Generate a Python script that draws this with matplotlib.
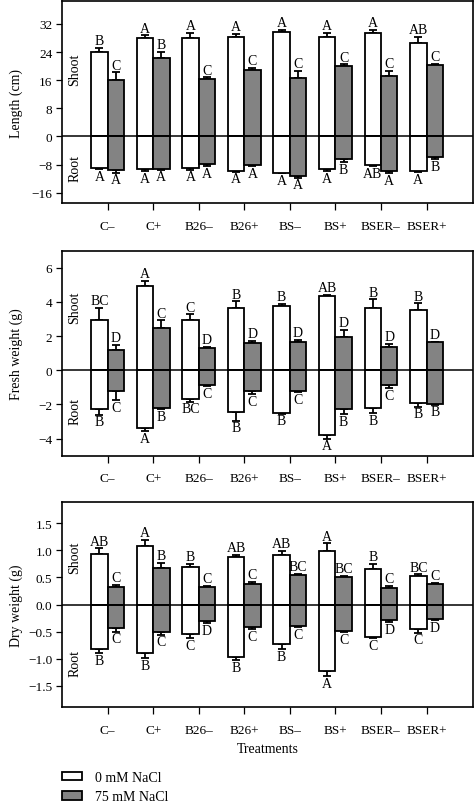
import matplotlib
matplotlib.use("Agg")
import matplotlib.pyplot as plt
import matplotlib.transforms as mtransforms
import numpy as np
from matplotlib.patches import Patch

plt.rcParams["font.family"] = ["Liberation Serif", "DejaVu Serif"]
plt.rcParams["axes.unicode_minus"] = True

treatments = ["C–", "C+", "B26–", "B26+", "BS–", "BS+", "BSER–", "BSER+"]

# ── Length (cm) ──────────────────────────────────────────────────────────────
len_shoot_w     = [24.1, 28.1, 27.9, 28.4, 29.6, 28.4, 29.3, 26.7]
len_shoot_w_err = [1.1, 0.6, 1.6, 0.7, 0.7, 1.1, 1.0, 1.7]
len_root_w      = [-9.0, -9.3, -8.9, -9.9, -10.3, -9.2, -8.2, -9.8]
len_root_w_err  = [0.2, 0.6, 0.5, 0.1, 0.1, 0.7, 0.2, 0.3]
len_shoot_g     = [16.0, 22.4, 16.3, 18.8, 16.7, 19.9, 17.3, 20.2]
len_shoot_g_err = [2.2, 1.7, 0.5, 0.7, 1.9, 0.6, 1.3, 0.5]
len_root_g      = [-9.6, -9.3, -7.9, -8.2, -11.1, -6.5, -9.7, -5.8]
len_root_g_err  = [0.7, 0.1, 0.6, 0.3, 0.6, 0.8, 0.8, 0.6]
len_lab_shoot_w = ["B", "A", "A", "A", "A", "A", "A", "AB"]
len_lab_shoot_g = ["C", "B", "C", "C", "C", "C", "C", "C"]
len_lab_root_w  = ["A", "A", "A", "A", "A", "A", "AB", "A"]
len_lab_root_g  = ["A", "A", "A", "A", "A", "B", "A", "B"]

# ── Fresh weight (g) ─────────────────────────────────────────────────────────
fw_shoot_w     = [2.95, 4.93, 2.95, 3.63, 3.77, 4.35, 3.65, 3.53]
fw_shoot_w_err = [0.70, 0.31, 0.33, 0.41, 0.13, 0.08, 0.51, 0.39]
fw_root_w      = [-2.29, -3.36, -1.67, -2.43, -2.50, -3.77, -2.23, -1.94]
fw_root_w_err  = [0.31, 0.19, 0.16, 0.52, 0.03, 0.23, 0.29, 0.18]
fw_shoot_g     = [1.20, 2.50, 1.28, 1.57, 1.63, 1.96, 1.34, 1.63]
fw_shoot_g_err = [0.28, 0.43, 0.10, 0.14, 0.14, 0.39, 0.19, 0.04]
fw_root_g      = [-1.20, -2.21, -0.89, -1.20, -1.20, -2.25, -0.89, -2.00]
fw_root_g_err  = [0.53, 0.08, 0.04, 0.20, 0.08, 0.33, 0.16, 0.02]
fw_lab_shoot_w = ["BC", "A", "C", "B", "B", "AB", "B", "B"]
fw_lab_shoot_g = ["D", "C", "D", "D", "D", "D", "D", "D"]
fw_lab_root_w  = ["B", "A", "BC", "B", "B", "A", "B", "B"]
fw_lab_root_g  = ["C", "B", "C", "C", "C", "B", "C", "B"]

# ── Dry weight (g) ───────────────────────────────────────────────────────────
dw_shoot_w     = [0.94, 1.09, 0.70, 0.87, 0.92, 0.98, 0.66, 0.52]
dw_shoot_w_err = [0.10, 0.11, 0.05, 0.05, 0.07, 0.15, 0.09, 0.04]
dw_root_w      = [-0.82, -0.89, -0.55, -0.97, -0.73, -1.22, -0.60, -0.45]
dw_root_w_err  = [0.08, 0.10, 0.07, 0.06, 0.09, 0.11, 0.02, 0.07]
dw_shoot_g     = [0.33, 0.68, 0.32, 0.37, 0.54, 0.50, 0.31, 0.37]
dw_shoot_g_err = [0.03, 0.09, 0.03, 0.05, 0.03, 0.03, 0.04, 0.03]
dw_root_g      = [-0.43, -0.50, -0.31, -0.42, -0.39, -0.49, -0.28, -0.26]
dw_root_g_err  = [0.07, 0.06, 0.03, 0.04, 0.03, 0.02, 0.05, 0.03]
dw_lab_shoot_w = ["AB", "A", "B", "AB", "AB", "A", "B", "BC"]
dw_lab_shoot_g = ["C", "B", "C", "C", "BC", "BC", "C", "C"]
dw_lab_root_w  = ["B", "B", "C", "B", "B", "A", "C", "C"]
dw_lab_root_g  = ["C", "C", "D", "C", "C", "C", "D", "D"]

GRAY    = "#838383"
BAR_W   = 0.36
LW      = 1.3
FS_LET  = 10
FS_TICK = 9.5


def draw_panel(ax, data, letters, ylim, yticks, ylabel, yfmt, shoot_y, root_y):
    x = np.arange(1, len(treatments) + 1)
    # (values, errors, offset, colour, letters, sign)
    series = [
        (data[0], data[1], -BAR_W / 2, "white", letters[0], 1),
        (data[2], data[3], -BAR_W / 2, "white", letters[1], -1),
        (data[4], data[5], BAR_W / 2, GRAY, letters[2], 1),
        (data[6], data[7], BAR_W / 2, GRAY, letters[3], -1),
    ]
    for vals, errs, off, col, labs, sign in series:
        vals = np.asarray(vals)
        errs = np.asarray(errs)
        xs = x + off
        ax.bar(xs, vals, width=BAR_W, color=col, edgecolor="black", linewidth=LW, zorder=2)
        if sign > 0:
            yerr = [np.zeros_like(errs), errs]
        else:
            yerr = [errs, np.zeros_like(errs)]
        ax.errorbar(xs, vals, yerr=yerr, fmt="none", ecolor="black",
                    elinewidth=LW, capsize=2.6, capthick=LW, zorder=1)
        for xi, v, e, lab in zip(xs, vals, errs, labs):
            if sign > 0:
                ax.annotate(lab, (xi, v + e), xytext=(0, 0.5), textcoords="offset points",
                            ha="center", va="bottom", fontsize=FS_LET)
            else:
                ax.annotate(lab, (xi, v - e), xytext=(0, -0.5), textcoords="offset points",
                            ha="center", va="top", fontsize=FS_LET)
    ax.axhline(0, color="black", linewidth=1.1, zorder=3)
    ax.set_xlim(0, 9.02)
    ax.set_ylim(*ylim)
    ax.set_xticks(x)
    ax.set_xticklabels(treatments, fontsize=FS_TICK)
    ax.set_yticks(yticks)
    ax.set_yticklabels([yfmt(t).replace("-", "\u2212") for t in yticks], fontsize=FS_TICK)
    ax.tick_params(axis="both", direction="out", length=4, width=0.9, pad=3)
    ax.tick_params(axis="x", length=5, pad=7)
    for s in ax.spines.values():
        s.set_linewidth(1.2)
    ax.set_ylabel(ylabel, fontsize=10)
    ax.yaxis.set_label_coords(-0.095, 0.5)
    tr = mtransforms.blended_transform_factory(ax.transData, ax.transAxes)
    ax.text(0.285, shoot_y, "Shoot", rotation=90, ha="center", va="center",
            fontsize=FS_LET, transform=tr)
    ax.text(0.285, root_y, "Root", rotation=90, ha="center", va="center",
            fontsize=FS_LET, transform=tr)


fig = plt.figure(figsize=(4.74, 8.03), dpi=100)
W, H = 474.0, 803.0
L, R = 62, 473

ax1 = fig.add_axes([L / W, 1 - 204 / H, (R - L) / W, 202 / H])
ax2 = fig.add_axes([L / W, 1 - 456.7 / H, (R - L) / W, 205 / H])
ax3 = fig.add_axes([L / W, 1 - 708.3 / H, (R - L) / W, 205.6 / H])

draw_panel(ax1,
           [len_shoot_w, len_shoot_w_err, len_root_w, len_root_w_err,
            len_shoot_g, len_shoot_g_err, len_root_g, len_root_g_err],
           [len_lab_shoot_w, len_lab_root_w, len_lab_shoot_g, len_lab_root_g],
           (-18.9, 38.5), [-16, -8, 0, 8, 16, 24, 32], "Length (cm)",
           lambda t: f"{t:d}", 0.663, 0.178)
draw_panel(ax2,
           [fw_shoot_w, fw_shoot_w_err, fw_root_w, fw_root_w_err,
            fw_shoot_g, fw_shoot_g_err, fw_root_g, fw_root_g_err],
           [fw_lab_shoot_w, fw_lab_root_w, fw_lab_shoot_g, fw_lab_root_g],
           (-5, 7), [-4, -2, 0, 2, 4, 6], "Fresh weight (g)",
           lambda t: f"{t:d}", 0.727, 0.22)
draw_panel(ax3,
           [dw_shoot_w, dw_shoot_w_err, dw_root_w, dw_root_w_err,
            dw_shoot_g, dw_shoot_g_err, dw_root_g, dw_root_g_err],
           [dw_lab_shoot_w, dw_lab_root_w, dw_lab_shoot_g, dw_lab_root_g],
           (-1.9, 1.9), [-1.5, -1.0, -0.5, 0.0, 0.5, 1.0, 1.5], "Dry weight (g)",
           lambda t: f"{t:.1f}", 0.73, 0.219)
ax3.set_xlabel("Treatments", fontsize=10, labelpad=4)

handles = [Patch(facecolor="white", edgecolor="black", linewidth=LW, label="0 mM NaCl"),
           Patch(facecolor=GRAY, edgecolor="black", linewidth=LW, label="75 mM NaCl")]
fig.legend(handles=handles, loc="upper left", bbox_to_anchor=(62 / W, 1 - 772 / H),
           frameon=False, fontsize=10, handlelength=1.45, handleheight=0.55,
           labelspacing=0.45, handletextpad=0.9, borderaxespad=0, borderpad=0)

fig.savefig("out.png", dpi=100)
